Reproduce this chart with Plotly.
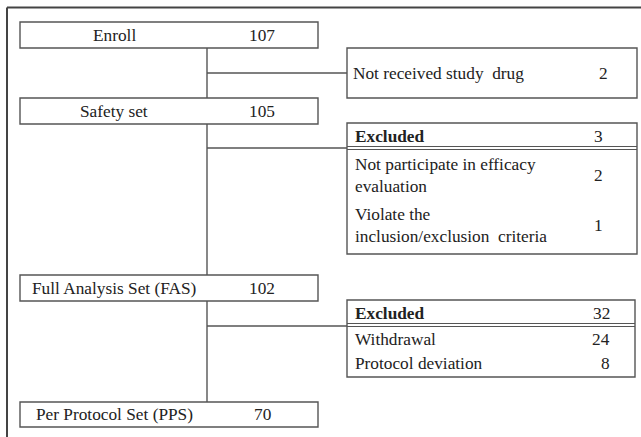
import plotly.graph_objects as go

# ---- data ----
main_labels = ["Enroll", "Safety set", "Full Analysis Set (FAS)", "Per Protocol Set (PPS)"]
main_counts = [107, 105, 102, 70]

excl1_label = ["Not received study  drug"]
excl1_count = [2]

excl2_header = "Excluded"
excl2_total = 3
excl2_reasons = ["Not participate in efficacy<br>evaluation", "Violate the<br>inclusion/exclusion  criteria"]
excl2_counts = [2, 1]

excl3_header = "Excluded"
excl3_total = 32
excl3_reasons = ["Withdrawal", "Protocol deviation"]
excl3_counts = [24, 8]

# ---- layout geometry (pixels) ----
W, H = 641, 437
LINE = "#555555"
TXT = "#222222"
FONT = "Liberation Serif"
FS = 17.3

main_boxes = [(22, 48), (98, 124), (275, 301), (402, 427)]
MX0, MX1 = 20, 318
STEM_X = 207
BRANCH_Y = [73, 148, 326]
RX0, RX1 = 347, 637

shapes = []
annotations = []

def line(x0, y0, x1, y1, w=1.4, c=LINE):
    shapes.append(dict(type="line", x0=x0, y0=y0, x1=x1, y1=y1, xref="x", yref="y",
                       line=dict(color=c, width=w)))

def rect(x0, y0, x1, y1, w=1.4):
    shapes.append(dict(type="rect", x0=x0, y0=y0, x1=x1, y1=y1, xref="x", yref="y",
                       line=dict(color=LINE, width=w), fillcolor="rgba(0,0,0,0)"))

def text(x, y, s, anchor="left", bold=False, size=FS):
    if bold:
        s = "<b>" + s + "</b>"
    annotations.append(dict(x=x, y=y, xref="x", yref="y", text=s, showarrow=False,
                            xanchor=anchor, yanchor="middle", align="left",
                            font=dict(family=FONT, size=size, color=TXT)))

# outer frame (top and left)
line(7, 7.5, W, 7.5, w=2, c="#444444")
line(7, 7.5, 7, H, w=2, c="#444444")

# main boxes
for (y0, y1), lab, cnt in zip(main_boxes, main_labels, main_counts):
    rect(MX0, y0, MX1, y1)
    yc = (y0 + y1) / 2
    text(114, yc, lab, anchor="center")
    text(262, yc, str(cnt), anchor="center")

# stems between main boxes
for i in range(len(main_boxes) - 1):
    line(STEM_X, main_boxes[i][1], STEM_X, main_boxes[i + 1][0])

# branches
for by in BRANCH_Y:
    line(STEM_X, by, RX0, by)

# box 1: not received study drug
rect(RX0, 48, RX1, 98)
text(351, 73, excl1_label[0])
text(603, 73, str(excl1_count[0]), anchor="center")

# box 2: excluded (safety -> FAS)
rect(RX0, 123, RX1, 254)
line(RX0, 146.5, RX1, 146.5, w=1)
line(RX0, 149.5, RX1, 149.5, w=1)
text(353, 136, excl2_header, bold=True)
text(598, 136, str(excl2_total), anchor="center")
for yc, lab, cnt in zip([175, 225], excl2_reasons, excl2_counts):
    text(353, yc, lab)
    text(598, yc, str(cnt), anchor="center")

# box 3: excluded (FAS -> PPS)
rect(RX0, 300, 635, 377)
line(RX0, 323.5, 635, 323.5, w=1)
line(RX0, 326.5, 635, 326.5, w=1)
text(353, 313, excl3_header, bold=True)
text(612, 313, str(excl3_total), anchor="right")
for yc, lab, cnt in zip([339, 363], excl3_reasons, excl3_counts):
    text(353, yc, lab)
    text(612, yc, str(cnt), anchor="right")

fig = go.Figure()
fig.update_layout(
    width=W, height=H,
    margin=dict(l=0, r=0, t=0, b=0),
    paper_bgcolor="white", plot_bgcolor="white",
    xaxis=dict(range=[0, W], visible=False, fixedrange=True),
    yaxis=dict(range=[H, 0], visible=False, fixedrange=True),
    shapes=shapes, annotations=annotations, showlegend=False,
)
fig.write_html("out.html", config={"displayModeBar": False},
               post_script="document.body.style.margin='0';document.body.style.overflow='hidden';")
